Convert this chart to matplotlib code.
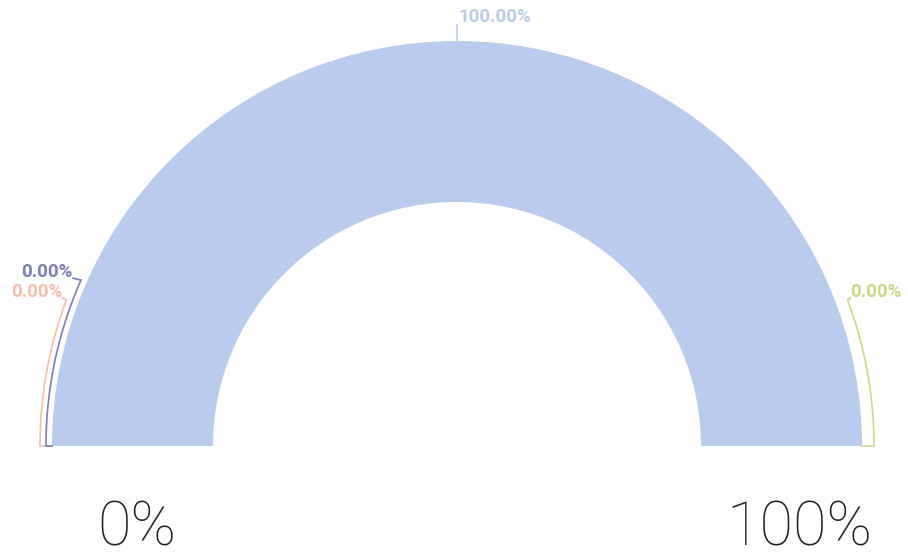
import numpy as np
import matplotlib.pyplot as plt

# gauge data
values = [0, 0, 100, 0]
colors = ['#f7bfae', '#7c7fb6', '#b9cced', '#c8da88']
pct_labels = ['0.00%', '0.00%', '100.00%', '0.00%']
end_labels = ['0%', '100%']

# layout (pixels, y pointing up)
W, H = 908, 558
cx, cy = 457, 112
R, ring = 405, 161

# leader arcs for the zero slices: (arc radius, sweep in degrees, hook length)
arc_style = {0: (417, 20.5, 4), 1: (411, 23.8, 8), 3: (417, 20.5, 3)}

fig = plt.figure(figsize=(W / 100, H / 100), dpi=100)
ax = fig.add_axes([0, 0, 1, 1])

total = sum(values)
ax.pie(values + [total], colors=colors + ['none'], startangle=180,
       counterclock=False, radius=R, center=(cx, cy),
       wedgeprops=dict(width=ring, linewidth=0))

# leader lines and labels
start = 180.0
for i, v in enumerate(values):
    span = 180.0 * v / total
    mid = start - span / 2
    start -= span
    a = np.radians(mid)
    if v > 0:
        x0, y0 = cx + R * np.cos(a), cy + R * np.sin(a)
        x1, y1 = cx + (R + 16) * np.cos(a), cy + (R + 16) * np.sin(a)
        ax.plot([x0, x1], [y0, y1], color=colors[i], lw=1.2)
        ax.text(x1 + 1, y1 + 8, pct_labels[i], color=colors[i], fontsize=13.5,
                fontweight='bold', family='Roboto', ha='left', va='center')
        continue
    r_arc, sweep, hook = arc_style[i]
    side = -1 if np.cos(a) < 0 else 1
    t = np.radians(np.linspace(0, sweep, 60))
    xs = cx + side * r_arc * np.cos(t)
    ys = cy + r_arc * np.sin(t)
    xs = np.concatenate([[cx + side * R], xs])
    ys = np.concatenate([[cy], ys])
    # short hook towards the label
    xe, ye = xs[-1], ys[-1]
    xs = np.append(xs, xe + side * hook)
    ys = np.append(ys, ye + 2)
    ax.plot(xs, ys, color=colors[i], lw=1.2, solid_joinstyle='miter')
    ax.text(xe + side * hook, ye + 8, pct_labels[i], color=colors[i], fontsize=13.5,
            fontweight='bold', family='Roboto',
            ha='left' if side > 0 else 'right', va='center')

ax.text(137, 12, end_labels[0], fontsize=44, fontweight='light', family='Roboto',
        color='#222222', ha='center', va='baseline')
ax.text(799, 12, end_labels[1], fontsize=44, fontweight='light', family='Roboto',
        color='#222222', ha='center', va='baseline')

ax.set_xlim(0, W)
ax.set_ylim(0, H)
ax.set_aspect('auto')
ax.axis('off')

fig.savefig('out.png', dpi=100)
